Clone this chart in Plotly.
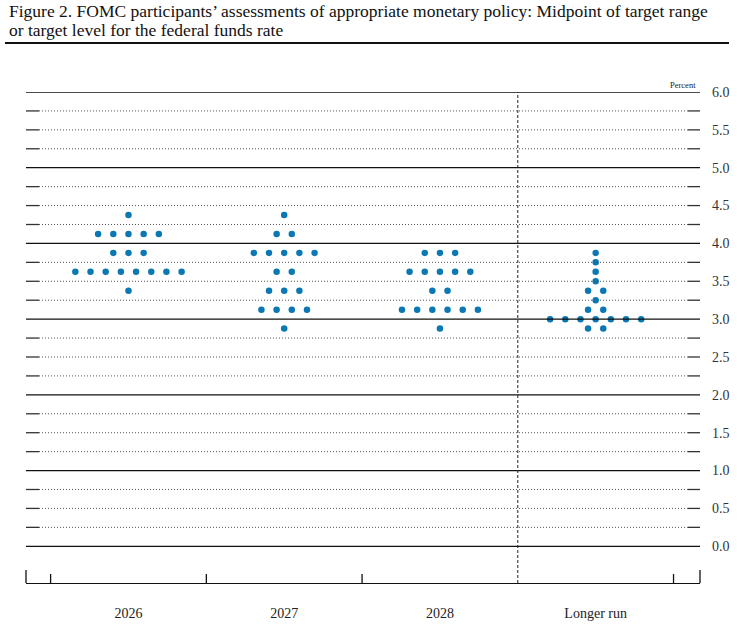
import plotly.graph_objects as go

categories = ["2026", "2027", "2028", "Longer run"]

# midpoint of target range and number of participants at each level
rates_2026 = [4.375, 4.125, 3.875, 3.625, 3.375]
counts_2026 = [1, 5, 3, 8, 1]

rates_2027 = [4.375, 4.125, 3.875, 3.625, 3.375, 3.125, 2.875]
counts_2027 = [1, 2, 5, 2, 3, 4, 1]

rates_2028 = [3.875, 3.625, 3.375, 3.125, 2.875]
counts_2028 = [3, 5, 2, 6, 1]

rates_lr = [3.875, 3.75, 3.625, 3.5, 3.375, 3.25, 3.125, 3.0, 2.875]
counts_lr = [1, 1, 1, 1, 2, 1, 2, 7, 2]

axis_labels = [0.0, 0.5, 1.0, 1.5, 2.0, 2.5, 3.0, 3.5, 4.0, 4.5, 5.0, 5.5, 6.0]

title_lines = [
    "Figure 2. FOMC participants’ assessments of appropriate monetary policy: Midpoint of target range",
    "or target level for the federal funds rate",
]

groups = [(rates_2026, counts_2026), (rates_2027, counts_2027),
          (rates_2028, counts_2028), (rates_lr, counts_lr)]

# spread dots horizontally around each category centre
step = 0.0975
xs, ys = [], []
for ci, (rates, counts) in enumerate(groups):
    for r, n in zip(rates, counts):
        for k in range(n):
            xs.append(ci + (k - (n - 1) / 2) * step)
            ys.append(r)

serif = "Liberation Serif, Times New Roman, serif"

fig = go.Figure()
fig.add_trace(go.Scatter(
    x=xs, y=ys, mode="markers",
    marker=dict(size=6.5, color="#0b78b4"),
    cliponaxis=False, hoverinfo="skip", showlegend=False,
))

# plot area: 26..700 px wide, 92..583 px tall
pw, ph = 674, 491
shapes = []
for i in range(25):
    lvl = i * 0.25
    if i % 4 == 0:
        shapes.append(dict(type="line", xref="paper", yref="y", x0=0, x1=1,
                           y0=lvl, y1=lvl, line=dict(color="#111", width=1.3)))
    else:
        shapes.append(dict(type="line", xref="paper", yref="y", x0=13 / pw, x1=1 - 12 / pw,
                           y0=lvl, y1=lvl, line=dict(color="#555", width=1, dash="1px,2px")))
        shapes.append(dict(type="line", xref="paper", yref="y", x0=0, x1=13 / pw,
                           y0=lvl, y1=lvl, line=dict(color="#333", width=1.3)))
        shapes.append(dict(type="line", xref="paper", yref="y", x0=1 - 12 / pw, x1=1,
                           y0=lvl, y1=lvl, line=dict(color="#333", width=1.3)))

# separator before the longer run
shapes.append(dict(type="line", xref="x", yref="paper", x0=2.5, x1=2.5, y0=0, y1=1,
                   line=dict(color="#222", width=1, dash="3px,2px")))
# bottom axis ticks
for xv in [-0.5, 0.5, 1.5, 3.5]:
    shapes.append(dict(type="line", xref="x", yref="paper", x0=xv, x1=xv, y0=0, y1=9 / ph,
                       line=dict(color="#111", width=1.3)))
for xp in [0, 1]:
    shapes.append(dict(type="line", xref="paper", yref="paper", x0=xp, x1=xp, y0=0, y1=13 / ph,
                       line=dict(color="#111", width=1.3)))
# rule under the title
shapes.append(dict(type="line", xref="paper", yref="paper", x0=-21 / pw, x1=703 / pw,
                   y0=(583 - 43) / ph, y1=(583 - 43) / ph, line=dict(color="#111", width=2)))

annotations = [dict(text="Percent", xref="paper", yref="paper", x=1 - 2 / pw, y=(583 - 85) / ph,
                    xanchor="right", yanchor="middle", showarrow=False,
                    font=dict(family=serif, size=8.5, color="#222"))]
for i, line in enumerate(title_lines):
    annotations.append(dict(text=line, xref="paper", yref="paper", x=-19 / pw,
                            y=(583 - 11.5 - 18.5 * i) / ph, xanchor="left", yanchor="middle",
                            showarrow=False, font=dict(family=serif, size=17.5, color="#111")))

fig.update_layout(
    width=737, height=627,
    margin=dict(l=26, r=37, t=92, b=44),
    paper_bgcolor="white", plot_bgcolor="white",
    shapes=shapes,
    annotations=annotations,
    xaxis=dict(
        range=[-0.658, 3.67], tickvals=[0, 1, 2, 3], ticktext=categories,
        showgrid=False, zeroline=False, showline=True, linecolor="#111", linewidth=1.3,
        ticks="", ticklabelstandoff=17, automargin=False,
        tickfont=dict(family=serif, size=14, color="#222"),
    ),
    yaxis=dict(
        side="right", range=[-0.485, 6.0], tickvals=axis_labels,
        ticktext=[f"{v:.1f}" for v in axis_labels],
        showgrid=False, zeroline=False, ticks="", ticklabelstandoff=11, automargin=False,
        tickfont=dict(family=serif, size=14, color="#333"),
    ),
)

# drop the default body margin so the figure sits at the window's top-left
fig.write_html("out.html", config={"displayModeBar": False},
               post_script="document.body.style.margin='0';")
